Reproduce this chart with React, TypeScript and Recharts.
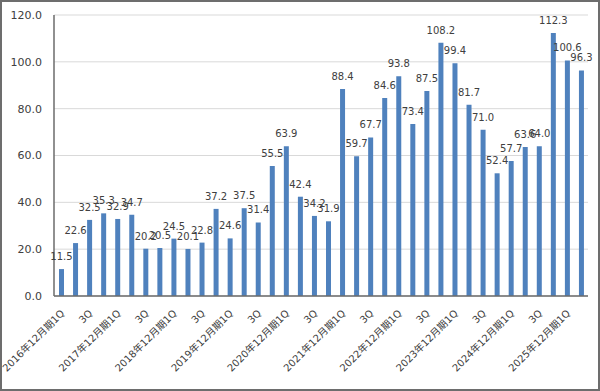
import React from "react";
import { BarChart, Bar, XAxis, YAxis, CartesianGrid, LabelList } from "recharts";

const categories: string[] = [
  "2016年12月期1Q", "2Q", "3Q", "4Q",
  "2017年12月期1Q", "2Q", "3Q", "4Q",
  "2018年12月期1Q", "2Q", "3Q", "4Q",
  "2019年12月期1Q", "2Q", "3Q", "4Q",
  "2020年12月期1Q", "2Q", "3Q", "4Q",
  "2021年12月期1Q", "2Q", "3Q", "4Q",
  "2022年12月期1Q", "2Q", "3Q", "4Q",
  "2023年12月期1Q", "2Q", "3Q", "4Q",
  "2024年12月期1Q", "2Q", "3Q", "4Q",
  "2025年12月期1Q", "2Q",
];

const values: number[] = [
  11.5, 22.6, 32.5, 35.3,
  32.9, 34.7, 20.2, 20.5,
  24.5, 20.1, 22.8, 37.2,
  24.6, 37.5, 31.4, 55.5,
  63.9, 42.4, 34.2, 31.9,
  88.4, 59.7, 67.7, 84.6,
  93.8, 73.4, 87.5, 108.2,
  99.4, 81.7, 71.0, 52.4,
  57.7, 63.6, 64.0, 112.3,
  100.6, 96.3,
];

const yTicks: number[] = [0, 20, 40, 60, 80, 100, 120];

const data = categories.map((c, i) => ({ name: c, value: values[i] }));

const FONT = "'DejaVu Sans', 'Noto Sans CJK JP', sans-serif";
const TEXT = "#404040";

const XTick = (props: any) => {
  const { x, y, payload } = props;
  const px = x + 4;
  const py = y + 10;
  return (
    <text
      x={px}
      y={py}
      transform={`rotate(-45 ${px} ${py})`}
      textAnchor="end"
      fontSize={10}
      fontFamily={FONT}
      fill={TEXT}
    >
      {payload.value}
    </text>
  );
};

export default function App() {
  return (
    <div
      style={{
        position: "absolute",
        left: 0,
        top: 0,
        width: 600,
        height: 391,
        boxSizing: "border-box",
        border: "2px solid #6d6d6d",
        background: "#fff",
      }}
    >
      <BarChart
        width={596}
        height={387}
        data={data}
        margin={{ top: 13, right: 10, left: 0, bottom: 0 }}
      >
        <CartesianGrid vertical={false} stroke="#d9d9d9" />
        <XAxis
          dataKey="name"
          interval={1}
          height={93}
          tickLine={false}
          axisLine={{ stroke: "#6b6b6b", strokeWidth: 1.5 }}
          tick={<XTick />}
        />
        <YAxis
          width={52}
          domain={[0, 120]}
          ticks={yTicks}
          tickFormatter={(v: number) => v.toFixed(1)}
          tickLine={false}
          tickSize={6}
          tickMargin={6}
          axisLine={{ stroke: "#6b6b6b", strokeWidth: 1.5 }}
          tick={{ fontSize: 11, fontFamily: FONT, fill: TEXT }}
        />
        <Bar dataKey="value" fill="#4f81bd" barSize={5} isAnimationActive={false}>
          <LabelList
            dataKey="value"
            position="top"
            offset={9}
            formatter={(v: number) => v.toFixed(1)}
            style={{ fontSize: 10, fontFamily: FONT, fill: TEXT }}
          />
        </Bar>
      </BarChart>
    </div>
  );
}
